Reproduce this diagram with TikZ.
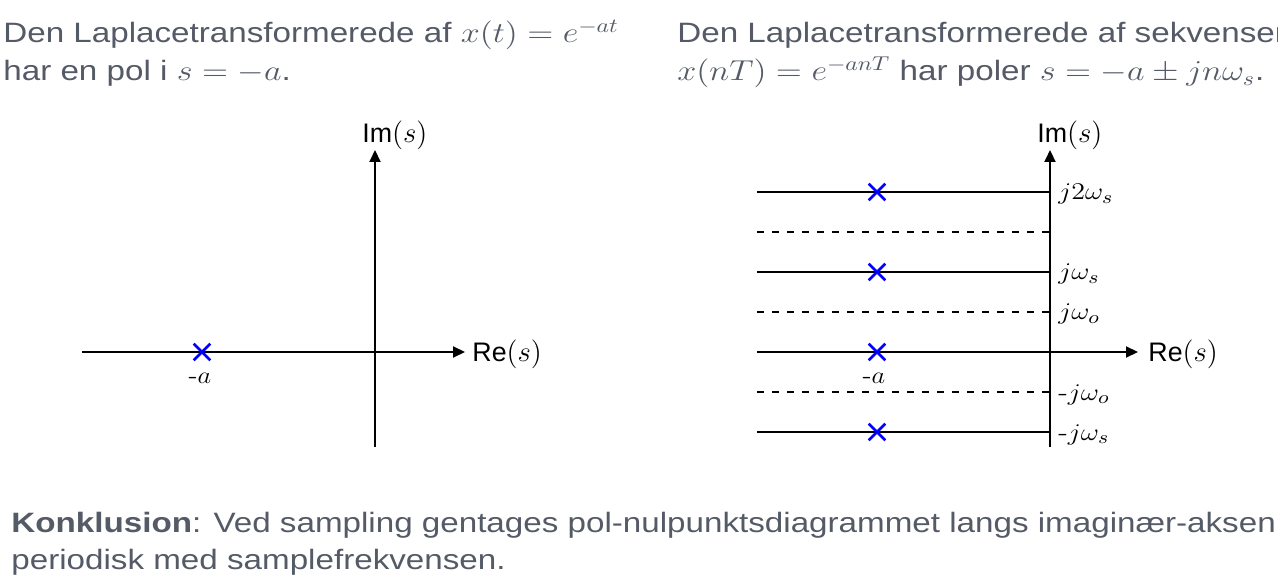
\documentclass[tikz,border=0pt]{standalone}
\usepackage{amsmath,amssymb}
\usepackage{graphicx}
\usepackage{fontspec}
\setsansfont{Liberation Sans}
\usetikzlibrary{arrows.meta,shapes.misc}
\definecolor{slidetext}{RGB}{84,90,102}
\newcommand{\wide}[2][1.185]{\scalebox{#1}[1]{#2}}

\begin{document}
\begin{tikzpicture}[x=0.5pt,y=-0.5pt,>={Triangle[length=6pt,width=5.5pt]},
  axis/.style={black,line width=1pt},
  alias/.style={black,line width=1pt,dash pattern=on 3.5pt off 4pt},
  pole/.style={cross out,draw=blue,line width=1.3pt,minimum size=7pt,inner sep=0pt},
  body/.style={anchor=base west,inner sep=0pt,text=slidetext,
    font=\sffamily\fontsize{14}{19}\selectfont},
  lbl/.style={inner sep=0pt,font=\fontsize{12.5}{15}\selectfont},
  axlbl/.style={inner sep=0pt,anchor=base west,font=\sffamily\fontsize{13.4}{16}\selectfont},
  tick/.style={lbl,anchor=base west}]
  \useasboundingbox (0,0) rectangle (1278,587);

  % Overskrifter
  \node[body] (lt1) at (3,43) {\wide{Den Laplacetransformerede af $x(t)=e^{-at}$}};
  \node[body] (lt2) at (3,81) {\wide{har en pol i $s=-a$.}};
  \node[body] (rt1) at (677,43) {\wide{Den Laplacetransformerede af sekvensen}};
  \node[body] (rt2) at (677,81) {\wide{$x(nT)=e^{-anT}$ har poler $s=-a\pm jn\omega_s$.}};

  % Kontinuert: en pol
  \coordinate (lre0) at (82,352);
  \coordinate (lre1) at (465,352);
  \coordinate (lim0) at (375,447);
  \coordinate (lim1) at (375,150);
  \draw[axis,->] (lre0) -- (lre1);
  \draw[axis,->] (lim0) -- (lim1);
  \node[axlbl] (lrelab) at (472,361) {Re$(s)$};
  \node[axlbl] (limlab) at (362,143) {Im$(s)$};
  \node[pole] (lpole) at (202,352) {};
  \node[lbl,anchor=base] (la) at (200,383) {\wide[1.1]{-$a$}};

  % Samplet: polerne gentages med omega_s
  \foreach \yy in {192,272,432}
    \draw[axis] (757,\yy) -- (1050,\yy);
  \foreach \yy in {232,312,392}
    \draw[alias] (757,\yy) -- (1050,\yy);
  \coordinate (rre0) at (757,352);
  \coordinate (rre1) at (1138,352);
  \coordinate (rim0) at (1050,447);
  \coordinate (rim1) at (1050,150);
  \draw[axis,->] (rre0) -- (rre1);
  \draw[axis,->] (rim0) -- (rim1);
  \node[axlbl] (rrelab) at (1148,361) {Re$(s)$};
  \node[axlbl] (rimlab) at (1037,143) {Im$(s)$};
  \foreach \yy/\nm in {192/p2,272/p1,352/p0,432/pm1}
    \node[pole] (\nm) at (877,\yy) {};
  \node[lbl,anchor=base] (ra) at (874,383) {\wide[1.1]{-$a$}};

  \node[tick] (t2s) at (1058,200) {\wide[1.17]{$j2\omega_s$}};
  \node[tick] (t1s) at (1058,280) {\wide[1.17]{$j\omega_s$}};
  \node[tick] (t1o) at (1058,320) {\wide[1.17]{$j\omega_o$}};
  \node[tick] (tm1o) at (1058,400) {\wide[1.17]{-$j\omega_o$}};
  \node[tick] (tm1s) at (1058,440) {\wide[1.17]{-$j\omega_s$}};

  % Konklusion
  \node[body] (k1) at (11,532) {\wide{\textbf{Konklusion}: Ved sampling gentages pol-nulpunktsdiagrammet langs imaginær-aksen}};
  \node[body] (k2) at (11,569) {\wide{periodisk med samplefrekvensen.}};
\end{tikzpicture}
\end{document}
